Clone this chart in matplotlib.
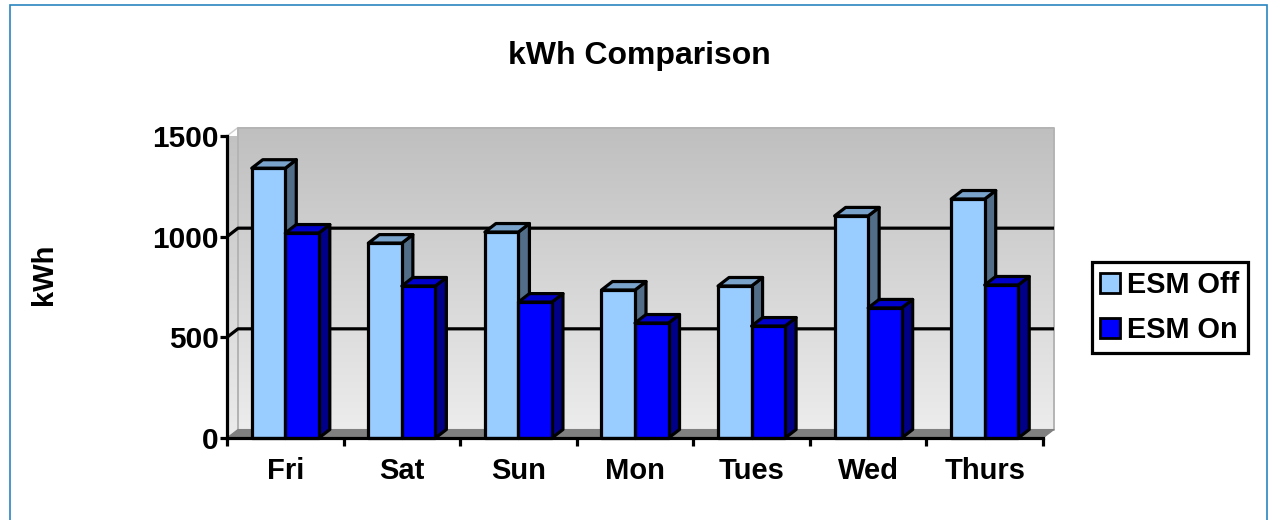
#!/usr/bin/env python3
"""kWh comparison: pseudo-3D clustered columns, drawn by hand on a 2D axes."""

import numpy as np
import matplotlib
matplotlib.use("Agg")
import matplotlib.pyplot as plt
from matplotlib.patches import Polygon, Rectangle
from matplotlib.colors import LinearSegmentedColormap

days = ["Fri", "Sat", "Sun", "Mon", "Tues", "Wed", "Thurs"]
esm_off = [1340, 968, 1023, 735, 755, 1103, 1187]
esm_on = [1018, 755, 675, 571, 556, 646, 760]
y_ticks = [0, 500, 1000, 1500]

W, H = 1269, 520
C_OFF = ("#99ccff", "#7aa3cc", "#526d88")
C_ON = ("#0000ff", "#0000cc", "#000088")
C_FRAME = "#2a86c0"
LW = 2.3

plt.rcParams["font.family"] = ["Liberation Sans", "DejaVu Sans"]
plt.rcParams["font.weight"] = "bold"

fig = plt.figure(figsize=(W / 100, H / 100), dpi=100, facecolor="white")
fig.add_artist(Rectangle((10 / W, -0.02), (1267 - 10) / W, 1.02 - 5 / H,
                         transform=fig.transFigure, fill=False,
                         edgecolor=C_FRAME, lw=1.2))

# front plane of the plot in pixels
left, right, top, base = 227, 1043, 136, 438
ax = fig.add_axes([left / W, 1 - base / H, (right - left) / W, (base - top) / H])
ax.patch.set_visible(False)

# depth of the 3D box, in data units
n = len(days)
dx = 11 / (right - left) * n
dy = 8.5 / (base - top) * 1500


def poly(pts, fc, ec="black", lw=LW, z=2):
    p = Polygon(pts, closed=True, facecolor=fc, edgecolor=ec, lw=lw,
                joinstyle="round", clip_on=False, zorder=z)
    ax.add_patch(p)
    return p


# back wall and side wall with grey gradient
grad = LinearSegmentedColormap.from_list("wall", ["#bfbfbf", "#ececec"])
ramp = np.linspace(0, 1, 256).reshape(-1, 1)
ax.imshow(ramp, cmap=grad, aspect="auto",
          extent=(dx, n + dx, dy, 1500 + dy), clip_on=False, zorder=0)
side = ax.imshow(ramp, cmap=grad, aspect="auto", vmin=-0.05, vmax=1,
                 extent=(0, dx, 0, 1500 + dy), zorder=0.3)
side.set_clip_path(poly([(0, 0), (dx, dy), (dx, 1500 + dy), (0, 1500)],
                        "none", ec="#cfcfcf", lw=1.0, z=0.4))
ax.set_xlim(0, n)
ax.set_ylim(0, 1500)
poly([(dx, 1500 + dy), (n + dx, 1500 + dy), (n + dx, dy), (dx, dy)],
     "none", ec="#b4b4b4", lw=1.4, z=0.5)
# floor
poly([(0, 0), (n, 0), (n + dx, dy), (dx, dy)], "#808080", ec="#808080", lw=0.8, z=0.6)

# gridlines on the wall
for v in y_ticks[1:3]:
    ax.plot([0, dx, n + dx], [v, v + dy, v + dy], color="black", lw=LW,
            clip_on=False, zorder=1, solid_capstyle="butt")

# columns
bar_w = 0.2875
for i in range(n):
    x_c = i + 0.5
    for x0, val, cols in ((x_c - bar_w, esm_off[i], C_OFF), (x_c, esm_on[i], C_ON)):
        x1 = x0 + bar_w
        poly([(x1, 0), (x1 + dx, dy), (x1 + dx, val + dy), (x1, val)], cols[2])
        poly([(x0, val), (x0 + dx, val + dy), (x1 + dx, val + dy), (x1, val)], cols[1])
        poly([(x0, 0), (x1, 0), (x1, val), (x0, val)], cols[0])

# axes and ticks
for s in ("top", "right"):
    ax.spines[s].set_visible(False)
for s in ("left", "bottom"):
    ax.spines[s].set_linewidth(LW)
    ax.spines[s].set_zorder(5)
ax.set_yticks(y_ticks)
ax.set_xticks(np.arange(n + 1))
ax.set_xticklabels([])
ax.set_xticks(np.arange(n) + 0.5, labels=days, minor=True)
ax.tick_params(axis="x", which="major", length=6, width=LW)
ax.tick_params(axis="x", which="minor", length=0, pad=14, labelsize=21)
ax.tick_params(axis="y", length=5, width=LW, pad=1, labelsize=21.5)

fig.text(639 / W, 1 - 56 / H, "kWh Comparison", ha="center", va="center", fontsize=23)
fig.text(44 / W, 1 - 274 / H, "kWh", ha="center", va="center", rotation=90, fontsize=21)

# legend
handles = [Rectangle((0, 0), 1, 1, facecolor=C_OFF[0], edgecolor="black", lw=2),
           Rectangle((0, 0), 1, 1, facecolor=C_ON[0], edgecolor="black", lw=2)]
leg = fig.legend(handles, ["ESM Off", "ESM On"], loc="upper left",
                 bbox_to_anchor=(1091.5 / W, 1 - 262 / H), bbox_transform=fig.transFigure,
                 fontsize=20.8, fancybox=False, framealpha=1, edgecolor="black",
                 handlelength=0.69, handleheight=0.69, handletextpad=0.25,
                 labelspacing=0.6, borderpad=0.3, borderaxespad=0, columnspacing=0)
leg.get_frame().set_linewidth(LW)

fig.savefig("out.png", dpi=100)
